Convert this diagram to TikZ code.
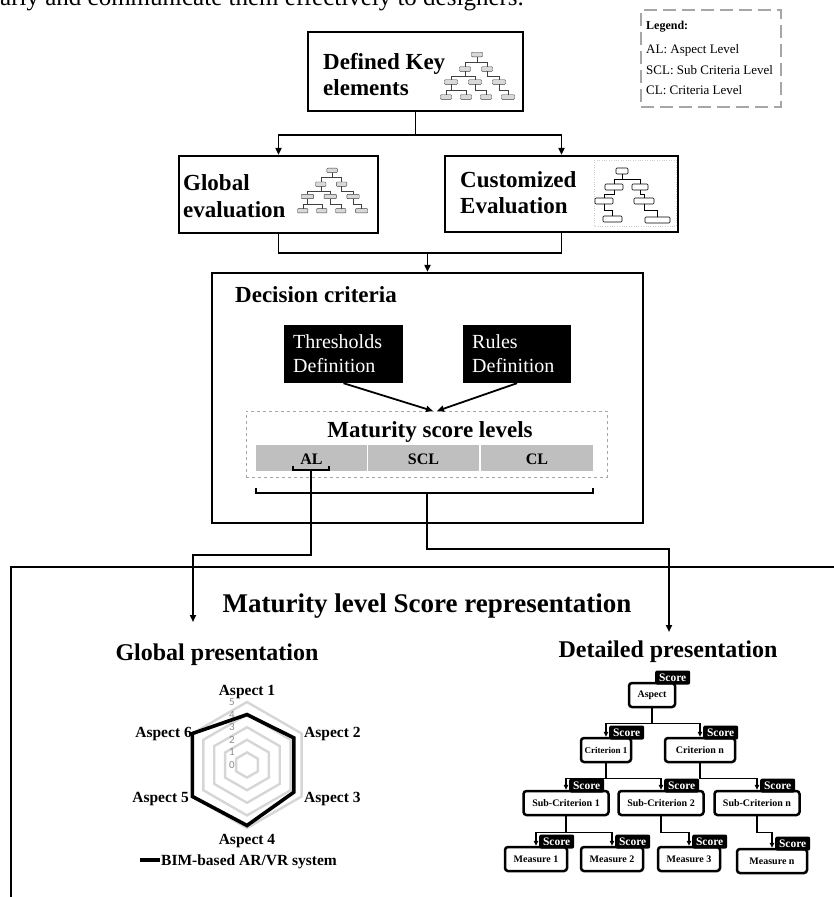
\documentclass[tikz,border=0pt]{standalone}
\usepackage{fontspec}
\setmainfont{Liberation Serif}
\newfontfamily\numfont{Carlito}
\usetikzlibrary{arrows.meta,calc}
\definecolor{cellgray}{HTML}{BFBFBF}
\definecolor{leggray}{HTML}{A6A6A6}
\definecolor{ringgray}{HTML}{D6D6D6}
\definecolor{numgray}{HTML}{8C8C8C}
\newcommand\mtb[3]{\draw[mtbox] (#1-#3/2,#2-2.3) rectangle (#1+#3/2,#2+2.3);}
\newcommand\minitreeA{%
  \mtb{37}{2.5}{11}
  \mtb{25}{17}{11}\mtb{47}{17}{11}
  \mtb{11}{30}{13}\mtb{35}{30}{13}\mtb{59}{30}{13}
  \mtb{6}{45}{11}\mtb{26}{45}{11}\mtb{46}{45}{11}\mtb{68}{45}{13}
  \draw[mtline] (37,4.8)--(37,10) (25,10)--(47,10) (25,10)--(25,14.7) (47,10)--(47,14.7)
    (25,19.3)--(25,24) (11,24)--(35,24) (11,24)--(11,27.7) (35,24)--(35,27.7)
    (47,19.3)--(47,24)--(59,24)--(59,27.7)
    (11,32.3)--(11,38) (6,38)--(26,38) (6,38)--(6,42.7) (26,38)--(26,42.7)
    (35,32.3)--(35,38)--(46,38)--(46,42.7)
    (59,32.3)--(59,38)--(68,38)--(68,42.7);
}
\begin{document}
\begin{tikzpicture}[x=1pt,y=-1pt,
  bigbox/.style={draw, line width=2.2pt, fill=white, inner sep=0pt},
  ttl/.style={font=\bfseries\fontsize{23}{27}\selectfont, anchor=base west, inner sep=0pt},
  conn/.style={line width=1.8pt},
  arr/.style={line width=1.8pt, -{Triangle[length=7pt,width=6pt]}},
  blackbox/.style={fill=black, inner sep=0pt},
  wtxt/.style={text=white, font=\fontsize{20}{23}\selectfont, anchor=base west, inner sep=0pt},
  cell/.style={fill=cellgray, inner sep=0pt, minimum height=26pt},
  celltxt/.style={font=\bfseries\fontsize{16}{19}\selectfont, anchor=base, inner sep=0pt},
  legtxt/.style={font=\fontsize{13}{15}\selectfont, anchor=base west, inner sep=0pt},
  mtbox/.style={fill=gray!30, draw=gray!50!black, line width=0.4pt, rounded corners=0.8pt},
  mtline/.style={line width=0.4pt, draw=gray!50!black},
  ctbox/.style={fill=white, draw=black, line width=0.6pt, rounded corners=1pt},
  ctline/.style={line width=0.5pt},
  tnode/.style={draw, line width=2.5pt, rounded corners=3pt, fill=white, minimum height=24pt, inner sep=1pt, font=\bfseries\fontsize{10}{12}\selectfont},
  score/.style={fill=black, text=white, rounded corners=2pt, inner sep=1pt, minimum width=35pt, minimum height=14pt, font=\bfseries\fontsize{11.5}{13}\selectfont, anchor=south west},
  tarr/.style={line width=1.3pt, -{Triangle[length=5pt,width=4.5pt]}},
  ring/.style={draw=ringgray, line width=2.4pt},
  num/.style={text=numgray, font=\numfont\fontsize{11}{12}\selectfont, inner sep=0pt},
  asp/.style={font=\bfseries\fontsize{15.5}{17}\selectfont, inner sep=0pt},
  head/.style={font=\bfseries\fontsize{24}{28}\selectfont, anchor=base, inner sep=0pt}
]
\useasboundingbox (0,0) rectangle (833,897);

% top cut-off text
\node[anchor=base west, font=\fontsize{25}{28}\selectfont, inner sep=0pt] (toptxt) at (0,5) {arly and communicate them effectively to designers.};

% legend
\node[draw=leggray, line width=2pt, dash pattern=on 13pt off 6pt, minimum width=140pt, minimum height=97pt, inner sep=0pt] (leg) at (711,58.5) {};
\node[anchor=base west, font=\bfseries\fontsize{12}{14}\selectfont, inner sep=0pt] (leg1) at (646,29) {Legend:};
\node[legtxt] (leg2) at (646,53) {AL: Aspect Level};
\node[legtxt] (leg3) at (646,74) {SCL: Sub Criteria Level};
\node[legtxt] (leg4) at (646,94) {CL: Criteria Level};

% Defined key elements
\node[bigbox, minimum width=215pt, minimum height=79pt] (dke) at (415.5,71.5) {};
\node[ttl] (dket1) at (323,69) {Defined Key};
\node[ttl] (dket2) at (323,95) {elements};
\begin{scope}[shift={(440,52)}]\minitreeA\end{scope}

% Global evaluation
\node[bigbox, minimum width=199pt, minimum height=77pt] (glob) at (278.5,194.5) {};
\node[ttl] (globt1) at (183,190) {Global};
\node[ttl] (globt2) at (183,217) {evaluation};
\begin{scope}[shift={(297,168)}, scale=0.95]\minitreeA\end{scope}

% Customized evaluation
\node[bigbox, minimum width=233pt, minimum height=76pt] (cust) at (561.5,194) {};
\node[ttl] (custt1) at (460,187) {Customized};
\node[ttl] (custt2) at (460,213) {Evaluation};
\draw[draw=gray!40, dotted, line width=0.4pt] (594,160) rectangle (676,226);
\draw[ctbox] (616,168) rectangle (628,174);
\draw[ctbox] (605,184) rectangle (623,190);
\draw[ctbox] (632,184) rectangle (648,190);
\draw[ctbox] (595,198) rectangle (613,204);
\draw[ctbox] (634,198) rectangle (654,204);
\draw[ctbox] (603,216) rectangle (622,222);
\draw[ctbox] (645,217) rectangle (670,223);
\draw[ctline] (622,174)--(622,179) (614,179)--(640,179) (614,179)--(614,184) (640,179)--(640,184)
  (614,190)--(614,194)--(604,194)--(604,198)
  (640,190)--(640,194)--(644,194)--(644,198)
  (604,204)--(604,210)--(612,210)--(612,216)
  (644,204)--(644,210)--(657,210)--(657,217);

% connectors top
\coordinate (j1) at (415.5,135);
\draw[conn] (dke.south) -- (j1);
\draw[arr] (j1) -| (glob.north);
\draw[arr] (j1) -| (cust.north);
\coordinate (j2) at (427.5,253);
\draw[conn] (glob.south) |- (j2);
\draw[conn] (cust.south) |- (j2);

% Decision criteria
\node[bigbox, minimum width=431pt, minimum height=250pt] (dec) at (427.5,398) {};
\draw[arr] (j2) -- (dec.north);
\node[ttl] (dect) at (235,302) {Decision criteria};
\node[blackbox, minimum width=119pt, minimum height=58pt] (thr) at (343.5,354) {};
\node[wtxt] (thrt1) at (293,348) {Thresholds};
\node[wtxt] (thrt2) at (293,372) {Definition};
\node[blackbox, minimum width=108pt, minimum height=58pt] (rul) at (517,354) {};
\node[wtxt] (rult1) at (472,348) {Rules};
\node[wtxt] (rult2) at (472,372) {Definition};

\node[draw=gray!70, dashed, line width=0.8pt, minimum width=361pt, minimum height=66pt, inner sep=0pt] (msl) at (426.5,444) {};
\coordinate (mt1) at (433,411);
\coordinate (mt2) at (437,411);
\draw[arr] (thr.south) -- (mt1);
\draw[arr] (rul.south) -- (mt2);
\node[anchor=base, font=\bfseries\fontsize{23}{27}\selectfont, inner sep=0pt] (mslt) at (430,437) {Maturity score levels};
\node[cell, minimum width=111pt] (cal) at (311.5,458) {};
\node[cell, minimum width=111pt] (cscl) at (423.5,458) {};
\node[cell, minimum width=112pt] (ccl) at (537,458) {};
\node[celltxt] (alt) at (311.5,464) {AL};
\node[celltxt] (sclt) at (423.5,464) {SCL};
\node[celltxt] (clt) at (537,464) {CL};

% braces
\coordinate (albr) at (311,470);
\coordinate (lbr) at (427,493);
\draw[conn] (293,465.5) -- (293,470) -- (329,470) -- (329,465.5);
\draw[conn] (256,487.5) -- (256,493) -- (593,493) -- (593,487.5);

% bottom frame
\draw[line width=2pt] (11,905) -- (11,567) -- (840,567);

% routes
\coordinate (gpin) at (193,622);
\coordinate (dpin) at (669,632);
\draw[arr] (albr) -- ++(0,85) -| (gpin);
\draw[arr] (lbr) -- ++(0,56) -| (dpin);

\node[anchor=base, font=\bfseries\fontsize{27}{30}\selectfont, inner sep=0pt] (mlsr) at (427,612) {Maturity level Score representation};
\node[head] (gph) at (217,660) {Global presentation};
\node[head] (dph) at (668,657) {Detailed presentation};

% radar chart
\begin{scope}[shift={(247,765)}]
  \foreach \k in {1,...,5}
    \draw[ring, line join=miter] (-90:12.6*\k) -- (-30:12.6*\k) -- (30:12.6*\k) -- (90:12.6*\k) -- (150:12.6*\k) -- (210:12.6*\k) -- cycle;
  \foreach \k in {0,...,5}
    \node[num] at (-15,-12.6*\k) {\k};
  \draw[line width=3.6pt, line join=miter] (-90:4*12.6) -- (-30:4.3*12.6) -- (30:4.3*12.6) -- (90:4.8*12.6) -- (150:5*12.6) -- (210:5*12.6) -- cycle;
\end{scope}
\node[asp, anchor=base] (a1) at (247,695) {Aspect 1};
\node[asp, anchor=base west] (a2) at (304,737) {Aspect 2};
\node[asp, anchor=base west] (a3) at (304,802) {Aspect 3};
\node[asp, anchor=base] (a4) at (247,844) {Aspect 4};
\node[asp, anchor=base east] (a5) at (189,802) {Aspect 5};
\node[asp, anchor=base east] (a6) at (192,737) {Aspect 6};
\coordinate (lg1) at (140,860);
\coordinate (lg2) at (160,860);
\draw[line width=4pt] (lg1) -- (lg2);
\node[asp, anchor=base west] (lgt) at (161,865) {BIM-based AR/VR system};

% detailed tree
\node[tnode, minimum width=46pt] (tasp) at (652,695) {Aspect};
\node[tnode, minimum width=50pt, font=\bfseries\fontsize{9}{11}\selectfont] (tc1) at (606,750) {Criterion 1};
\node[tnode, minimum width=70pt] (tcn) at (700,750) {Criterion n};
\node[tnode, minimum width=85pt] (tsc1) at (566,803) {Sub-Criterion 1};
\node[tnode, minimum width=85pt] (tsc2) at (661,803) {Sub-Criterion 2};
\node[tnode, minimum width=85pt] (tscn) at (757,803) {Sub-Criterion n};
\node[tnode, minimum width=62pt] (tm1) at (536,859) {Measure 1};
\node[tnode, minimum width=62pt] (tm2) at (612,859) {Measure 2};
\node[tnode, minimum width=62pt] (tm3) at (689,859) {Measure 3};
\node[tnode, minimum width=70pt] (tmn) at (772,861) {Measure n};

\draw[tarr] (tasp.south) -- ++(0,15) -| (tc1.north);
\draw[tarr] (tasp.south) -- ++(0,15) -| (tcn.north);
\draw[tarr] (tc1.south) -- ++(0,15) -| (tsc1.north);
\draw[tarr] (tc1.south) -- ++(0,15) -| (tsc2.north);
\draw[tarr] (tcn.south) -- ++(0,15) -| (tscn.north);
\draw[tarr] (tsc1.south) -- ++(0,16) -| (tm1.north);
\draw[tarr] (tsc1.south) -- ++(0,16) -| (tm2.north);
\draw[tarr] (tsc2.south) -- ++(0,16) -| (tm3.north);
\draw[tarr] (tscn.south) -- ++(0,16) -| (tmn.north);

\foreach \n in {tasp,tc1,tcn,tsc1,tsc2,tscn,tm1,tm2,tm3,tmn}
  \node[score] (score-\n) at ($(\n.north)+(3,3)$) {Score};
\end{tikzpicture}
\end{document}
